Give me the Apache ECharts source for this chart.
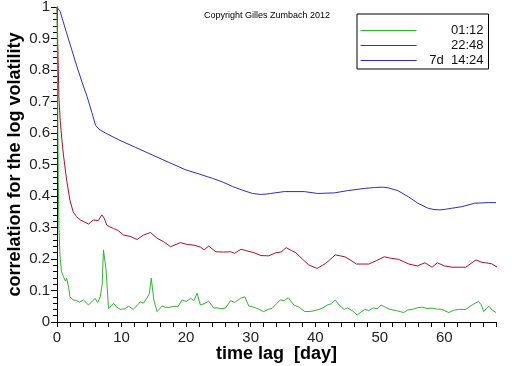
<!DOCTYPE html>
<html>
<head>
<meta charset="utf-8">
<script src="https://cdn.jsdelivr.net/npm/echarts@6/dist/echarts.min.js"></script>
<style>html,body{margin:0;padding:0;background:#fff}#c{width:512px;height:366px}</style>
</head>
<body>
<div id="c"></div>
<script>
// Series names (legend)
var seriesNames = ['01:12', '22:48', '7d  14:24'];

// Green series (01:12)
var greenLag  = [0, 0.05, 0.1, 0.2, 0.3, 0.47, 0.7, 1.0, 1.3, 1.5, 1.8, 2.0, 2.5, 3.06, 3.5, 4.1, 4.5, 4.87, 5.3, 5.9, 6.3, 6.7, 7.0, 7.2, 7.6, 7.98, 8.4, 8.76, 9.2, 9.8, 10.5, 11.1, 11.8, 12.4, 12.9, 13.4, 13.9, 14.3, 14.6, 15.0, 15.5, 16.3, 16.8, 17.3, 18.1, 18.7, 19.4, 20.0, 20.7, 21.2, 21.7, 22.2, 22.8, 23.5, 24.3, 24.8, 25.4, 26.1, 26.9, 27.5, 28.4, 29.1, 29.7, 30.3, 31.0, 32.0, 32.7, 33.3, 34.0, 34.6, 35.2, 35.8, 36.7, 37.5, 38.4, 39.5, 40.6, 41.2, 41.9, 42.5, 43.1, 43.7, 44.5, 45.0, 45.8, 46.5, 47.1, 47.7, 48.3, 49.0, 49.6, 50.2, 50.9, 51.6, 52.6, 53.7, 54.3, 55.0, 55.8, 56.6, 57.3, 58.1, 58.8, 59.6, 60.7, 61.4, 62.2, 63.3, 64.3, 64.8, 65.3, 65.7, 66.1, 66.5, 66.9, 67.4, 68.0];
var greenCorr = [1.0, 0.86, 0.72, 0.45, 0.3, 0.207, 0.16, 0.144, 0.13, 0.139, 0.11, 0.08, 0.07, 0.068, 0.063, 0.07, 0.062, 0.054, 0.062, 0.075, 0.062, 0.08, 0.12, 0.229, 0.165, 0.043, 0.05, 0.059, 0.048, 0.04, 0.042, 0.05, 0.04, 0.052, 0.064, 0.06, 0.075, 0.09, 0.139, 0.07, 0.033, 0.051, 0.047, 0.046, 0.05, 0.048, 0.07, 0.065, 0.075, 0.068, 0.091, 0.054, 0.058, 0.066, 0.044, 0.045, 0.042, 0.044, 0.068, 0.062, 0.075, 0.08, 0.051, 0.048, 0.043, 0.033, 0.04, 0.043, 0.058, 0.07, 0.068, 0.077, 0.054, 0.047, 0.033, 0.034, 0.04, 0.045, 0.054, 0.058, 0.07, 0.054, 0.04, 0.045, 0.035, 0.022, 0.032, 0.04, 0.036, 0.045, 0.042, 0.054, 0.046, 0.04, 0.036, 0.03, 0.038, 0.04, 0.045, 0.047, 0.043, 0.044, 0.041, 0.04, 0.03, 0.037, 0.04, 0.04, 0.054, 0.06, 0.065, 0.055, 0.033, 0.042, 0.05, 0.038, 0.03];

// Red series (22:48)
var redLag  = [0, 0.1, 0.3, 0.5, 0.75, 1.0, 1.5, 2.0, 2.5, 3.0, 3.6, 4.2, 4.9, 5.6, 6.4, 6.95, 7.3, 7.7, 8.2, 8.76, 9.5, 10.3, 11.3, 12.4, 13.4, 14.5, 15.5, 16.5, 17.6, 19.1, 20.2, 21.2, 22.2, 22.8, 23.5, 24.6, 25.8, 26.9, 27.5, 28.5, 29.4, 30.5, 31.6, 32.8, 33.9, 34.7, 35.5, 36.3, 37.0, 38.0, 39.0, 40.3, 41.6, 42.4, 43.1, 44.6, 45.5, 46.4, 48.3, 49.5, 50.7, 51.8, 52.9, 54.5, 55.8, 57.0, 58.1, 58.9, 60.0, 61.2, 63.3, 64.9, 65.7, 66.4, 67.3, 68.2];
var redCorr = [1.0, 0.9, 0.71, 0.64, 0.58, 0.53, 0.45, 0.387, 0.35, 0.335, 0.324, 0.318, 0.311, 0.324, 0.322, 0.34, 0.33, 0.308, 0.302, 0.297, 0.29, 0.276, 0.272, 0.262, 0.276, 0.284, 0.266, 0.255, 0.239, 0.252, 0.246, 0.244, 0.238, 0.229, 0.241, 0.223, 0.222, 0.223, 0.218, 0.231, 0.226, 0.22, 0.211, 0.21, 0.22, 0.222, 0.236, 0.227, 0.22, 0.2, 0.181, 0.17, 0.186, 0.2, 0.213, 0.207, 0.196, 0.184, 0.184, 0.195, 0.207, 0.202, 0.199, 0.184, 0.178, 0.188, 0.174, 0.188, 0.178, 0.174, 0.174, 0.197, 0.19, 0.188, 0.185, 0.174];

// Blue series (7d 14:24)
var blueLag  = [0, 0.5, 1.3, 2.2, 3.1, 3.9, 4.67, 5.4, 5.96, 6.5, 7.5, 9.6, 12.2, 14.8, 17.4, 19.95, 22.0, 24.1, 25.7, 27.2, 28.8, 30.3, 31.5, 32.4, 33.1, 35.2, 38.3, 40.4, 43.0, 45.0, 47.6, 49.2, 50.4, 51.3, 52.8, 54.4, 55.9, 57.5, 58.4, 59.3, 60.2, 61.1, 62.7, 64.7, 66.8, 68.0];
var blueCorr = [1.0, 0.985, 0.93, 0.87, 0.81, 0.76, 0.715, 0.665, 0.625, 0.612, 0.6, 0.578, 0.554, 0.53, 0.506, 0.483, 0.47, 0.456, 0.444, 0.43, 0.418, 0.408, 0.405, 0.406, 0.408, 0.414, 0.414, 0.408, 0.41, 0.417, 0.424, 0.427, 0.428, 0.426, 0.417, 0.398, 0.377, 0.361, 0.357, 0.356, 0.358, 0.361, 0.366, 0.377, 0.379, 0.379];

// Axis ticks
var xTickStep = 2, xLabelStep = 10, xMin = 0, xMax = 68;
var yTicks = [0, 0.1, 0.2, 0.3, 0.4, 0.5, 0.6, 0.7, 0.8, 0.9, 1];

function pairs(xs, ys) { return xs.map(function (x, i) { return [x, ys[i]]; }); }

var colors = ['#2fb42f', '#a8102e', '#2f2fb4'];
var chart = echarts.init(document.getElementById('c'), null, { renderer: 'canvas' });
var font = 'Liberation Sans, Arial, sans-serif';

chart.setOption({
  animation: false,
  backgroundColor: '#ffffff',
  color: colors,
  grid: { left: 57, right: 16, top: 7, bottom: 44, containLabel: false, outerBoundsMode: 'none' },
  xAxis: {
    type: 'value', min: xMin, max: xMax, interval: xTickStep,
    name: 'time lag  [day]', nameLocation: 'middle', nameGap: 23, nameMoveOverlap: false,
    nameTextStyle: { fontFamily: font, fontSize: 18, fontWeight: 'bold', color: '#000' },
    axisLine: { lineStyle: { color: '#000', width: 1 } },
    axisTick: { show: true, length: 5, lineStyle: { color: '#000' } },
    axisLabel: {
      fontFamily: font, fontSize: 15, color: '#222', margin: 8,
      formatter: function (v) { return (Math.round(v) % xLabelStep === 0) ? String(Math.round(v)) : ''; }
    },
    splitLine: { show: false }
  },
  yAxis: {
    type: 'value', min: yTicks[0], max: yTicks[yTicks.length - 1], interval: 0.1,
    name: 'correlation for the log volatility', nameLocation: 'middle', nameGap: 33, nameMoveOverlap: false,
    nameTextStyle: { fontFamily: font, fontSize: 18, fontWeight: 'bold', color: '#000' },
    axisLine: { show: true, lineStyle: { color: '#000', width: 1 } },
    axisTick: { show: true, length: 6, lineStyle: { color: '#000' } },
    minorTick: { show: true, splitNumber: 5, length: 4, lineStyle: { color: '#000' } },
    axisLabel: {
      fontFamily: font, fontSize: 15, color: '#222', margin: 7,
      formatter: function (v) { return String(Math.round(v * 10) / 10); }
    },
    splitLine: { show: false }
  },
  legend: {
    orient: 'vertical', left: 357, top: 14,
    backgroundColor: '#fff', borderColor: '#000', borderWidth: 1, borderRadius: 0,
    padding: [9, 5, 1, 3], itemGap: 0, itemWidth: 56, itemHeight: 15,
    data: seriesNames.map(function (n, i) {
      return { name: n, itemStyle: { opacity: 0 }, lineStyle: { color: colors[i], width: 1 } };
    }),
    itemStyle: { opacity: 0 },
    lineStyle: { width: 1 },
    textStyle: {
      fontFamily: font, fontSize: 13, color: '#111', lineHeight: 15,
      rich: { r: { width: 62, align: 'right', fontFamily: font, fontSize: 13, lineHeight: 15, color: '#111' } }
    },
    formatter: function (n) { return '{r|' + n + '}'; }
  },
  graphic: [{
    type: 'text', left: 204, top: 11,
    style: { text: 'Copyright Gilles Zumbach 2012', fontFamily: font, fontSize: 9, fill: '#000' }
  }],
  series: [
    { name: seriesNames[0], type: 'line', symbol: 'none', data: pairs(greenLag, greenCorr), lineStyle: { width: 1, color: colors[0] }, z: 3 },
    { name: seriesNames[1], type: 'line', symbol: 'none', data: pairs(redLag, redCorr), lineStyle: { width: 1, color: colors[1] }, z: 2 },
    { name: seriesNames[2], type: 'line', symbol: 'none', data: pairs(blueLag, blueCorr), lineStyle: { width: 1, color: colors[2] }, z: 1 }
  ]
});
</script>
</body>
</html>
